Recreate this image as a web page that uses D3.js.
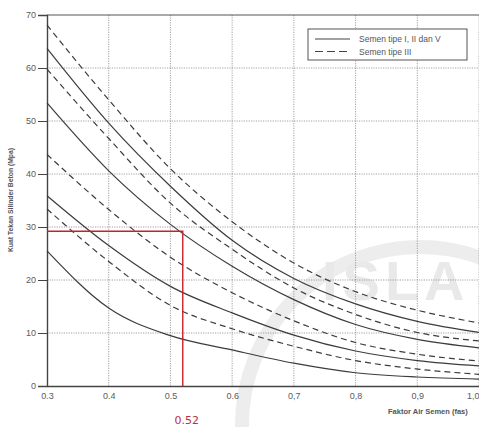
<!DOCTYPE html>
<html>
<head>
<meta charset="utf-8">
<script src="https://d3js.org/d3.v7.min.js"></script>
<style>
  body { margin: 0; background: #fff; }
  svg { display: block; font-family: "Liberation Sans", Arial, sans-serif; }
  .grid line { stroke: #8a8a8a; stroke-dasharray: 1.2,1.2; stroke-width: 0.8; }
  .axis text { fill: #5a5a5a; font-size: 9px; }
  .axis path, .axis line { stroke: #444; }
</style>
</head>
<body>
<svg id="chart" width="479" height="427"></svg>
<script>
// faktor air semen (x) and kuat tekan (y, MPa)
var fas = [0.3, 0.4, 0.5, 0.6, 0.7, 0.8, 0.9, 1.0];
var xTickLabels = ["0.3", "0.4", "0.5", "0.6", "0,7", "0,8", "0,9", "1,0"];
var yTicks = [0, 10, 20, 30, 40, 50, 60, 70];

// solid = semen tipe I, II dan V ; dashed = semen tipe III
var dashed1 = [68.1, 54.0, 41.0, 31.0, 23.2, 17.8, 14.3, 11.9];
var solid2  = [63.7, 49.6, 37.7, 27.5, 20.3, 15.5, 12.2, 10.1];
var dashed3 = [59.8, 46.7, 34.5, 25.8, 18.5, 13.5, 10.1, 8.5];
var solid4  = [53.4, 40.6, 30.5, 22.6, 16.3, 11.6, 8.8, 7.2];
var dashed5 = [43.7, 33.3, 24.3, 17.6, 12.3, 8.2, 6.0, 4.7];
var solid6  = [35.9, 26.5, 18.8, 13.8, 9.6, 6.6, 4.8, 3.8];
var dashed7 = [33.4, 23.5, 15.2, 10.8, 7.5, 4.8, 3.2, 2.2];
var solid8  = [25.5, 14.7, 9.5, 6.8, 4.3, 2.5, 1.7, 1.3];

var curves = [
  {v: dashed1, dash: true}, {v: solid2, dash: false},
  {v: dashed3, dash: true}, {v: solid4, dash: false},
  {v: dashed5, dash: true}, {v: solid6, dash: false},
  {v: dashed7, dash: true}, {v: solid8, dash: false}
];

var readFas = 0.52, readStrength = 29.2;
var legendItems = ["Semen tipe I, II dan V", "Semen tipe III"];

var svg = d3.select("#chart");
var W = 479, H = 427;
var x = d3.scaleLinear().domain([0.3, 1.0]).range([47, 479]);
var y = d3.scaleLinear().domain([0, 70]).range([386, 15]);

svg.append("rect").attr("width", W).attr("height", H).attr("fill", "#fff");

// faint watermark
var wm = svg.append("g").attr("fill", "none");
wm.append("circle").attr("cx", 420).attr("cy", 425).attr("r", 178)
  .attr("stroke", "#ededed").attr("stroke-width", 14);
wm.append("text").attr("x", 322).attr("y", 300)
  .attr("font-size", 56).attr("font-weight", "bold").attr("letter-spacing", 5)
  .attr("fill", "#e9e9e9").text("ISLA");

// grid
svg.append("g").attr("class", "grid")
  .selectAll("line.h").data(yTicks.slice(1, -1)).join("line")
  .attr("x1", x(0.3)).attr("x2", W).attr("y1", d => y(d)).attr("y2", d => y(d));
svg.append("g").attr("class", "grid")
  .selectAll("line.v").data(fas.slice(1)).join("line")
  .attr("x1", d => x(d)).attr("x2", d => x(d)).attr("y1", y(70)).attr("y2", y(0));

// frame
svg.append("line").attr("x1", x(0.3)).attr("x2", W).attr("y1", y(70)).attr("y2", y(70))
  .attr("stroke", "#555").attr("stroke-width", 1.2);

// axes
var xAxis = d3.axisBottom(x).tickValues(fas).tickSize(0).tickPadding(7)
  .tickFormat((d, i) => xTickLabels[i]);
var gx = svg.append("g").attr("class", "axis").attr("transform", "translate(0," + y(0) + ")").call(xAxis);
gx.select(".domain").attr("stroke-width", 1.4);
gx.selectAll(".tick text").filter(d => d === 1.0).attr("text-anchor", "end");

var yAxis = d3.axisLeft(y).tickValues(yTicks).tickSize(9).tickPadding(2);
var gy = svg.append("g").attr("class", "axis").attr("transform", "translate(" + x(0.3) + ",0)").call(yAxis);
gy.select(".domain").attr("stroke-width", 1.4);
gy.selectAll(".tick line").attr("stroke", "#666");

// curves
var line = d3.line().x((d, i) => x(fas[i])).y(d => y(d)).curve(d3.curveMonotoneX);
svg.append("g").selectAll("path").data(curves).join("path")
  .attr("d", d => line(d.v))
  .attr("fill", "none").attr("stroke", "#3c3c3c").attr("stroke-width", 1.2)
  .attr("stroke-dasharray", d => d.dash ? "6,4" : null);

// red reading lines
svg.append("path")
  .attr("d", "M" + x(0.3) + "," + y(readStrength) + "H" + x(readFas) + "V" + y(0))
  .attr("fill", "none").attr("stroke", "#c8202a").attr("stroke-width", 1.4);
svg.append("text").attr("x", x(readFas) + 4).attr("y", 424)
  .attr("text-anchor", "middle").attr("font-family", "DejaVu Sans")
  .attr("font-size", 11).attr("fill", "#c0303a").text(readFas.toFixed(2));

// axis titles
svg.append("text").attr("transform", "translate(13,200) rotate(-90)")
  .attr("text-anchor", "middle").attr("font-size", 6.8).attr("font-weight", "bold")
  .attr("fill", "#555").text("Kuat Tekan Silinder Beton (Mpa)");
svg.append("text").attr("x", 388).attr("y", 414)
  .attr("font-size", 7.5).attr("font-weight", "bold").attr("fill", "#555")
  .text("Faktor Air Semen (fas)");

// legend
var lg = svg.append("g").attr("transform", "translate(308,29)");
lg.append("rect").attr("width", 159).attr("height", 31)
  .attr("fill", "#fff").attr("stroke", "#555").attr("stroke-width", 1);
legendItems.forEach(function (t, i) {
  var ly = 10 + i * 12.5;
  lg.append("line").attr("x1", 7).attr("x2", 42).attr("y1", ly).attr("y2", ly)
    .attr("stroke", "#444").attr("stroke-width", 1.2)
    .attr("stroke-dasharray", i === 1 ? "8,4" : null);
  lg.append("text").attr("x", 51).attr("y", ly + 3)
    .attr("font-size", 8.5).attr("fill", "#555").text(t);
});
</script>
</body>
</html>
